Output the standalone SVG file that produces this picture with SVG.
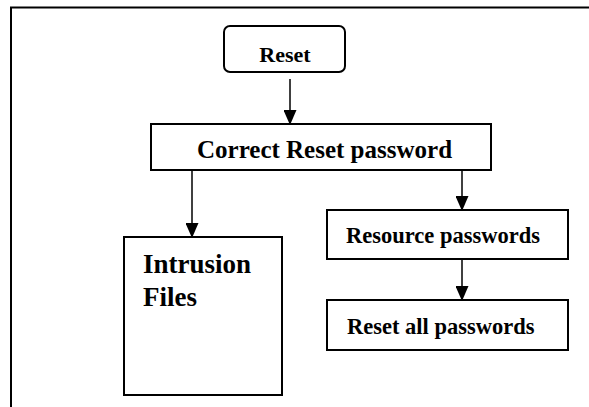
<svg xmlns="http://www.w3.org/2000/svg" width="589" height="407" viewBox="0 0 589 407">
<style>
.box{fill:#fff;stroke:#000;stroke-width:2}
.t{font-family:"Liberation Serif","Times New Roman",serif;font-weight:bold;fill:#000}
.c{stroke:#000;stroke-width:1.5;fill:none}
</style>
<defs>
<marker id="ad" markerWidth="15" markerHeight="13" refX="14" refY="6.5" orient="auto" markerUnits="userSpaceOnUse" viewBox="0 0 15 13">
<path d="M0,0 L15,6.5 L0,13 Z" fill="#000"/>
</marker>
</defs>
<path d="M589,7.5 H11 V407" fill="none" stroke="#000" stroke-width="2"/>
<g id="reset">
<rect class="box" x="224" y="26" width="121" height="46" rx="6"/>
<text class="t" x="285" y="62" font-size="22" text-anchor="middle">Reset</text>
</g>
<g id="correct">
<rect class="box" x="151" y="124" width="340" height="46"/>
<text class="t" x="197" y="158" font-size="25">Correct Reset password</text>
</g>
<g id="intrusion">
<rect class="box" x="124" y="237" width="158" height="158"/>
<text class="t" x="143" y="273" font-size="27">Intrusion</text>
<text class="t" x="143" y="306" font-size="27">Files</text>
</g>
<g id="resource">
<rect class="box" x="327" y="210" width="241" height="49"/>
<text class="t" x="346" y="243" font-size="22.5">Resource passwords</text>
</g>
<g id="resetall">
<rect class="box" x="327" y="300" width="241" height="50"/>
<text class="t" x="347" y="334" font-size="22.5">Reset all passwords</text>
</g>
<g id="connectors">
<line class="c" x1="290" y1="79" x2="290" y2="124" marker-end="url(#ad)"/>
<line class="c" x1="192" y1="170" x2="192" y2="237" marker-end="url(#ad)"/>
<line class="c" x1="462" y1="170" x2="462" y2="210" marker-end="url(#ad)"/>
<line class="c" x1="462" y1="259" x2="462" y2="300" marker-end="url(#ad)"/>
</g>
</svg>
